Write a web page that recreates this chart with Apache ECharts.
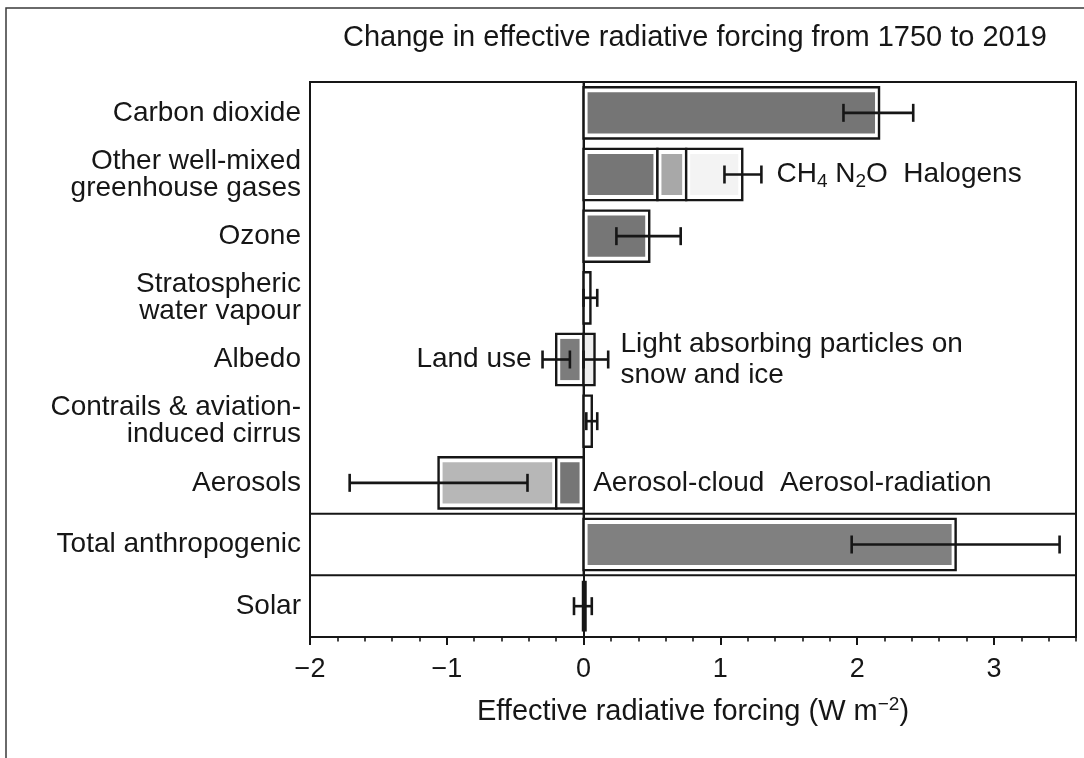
<!DOCTYPE html>
<html>
<head>
<meta charset="utf-8">
<script src="https://cdn.jsdelivr.net/npm/echarts@6/dist/echarts.min.js"></script>
<style>
html,body{margin:0;padding:0;background:#fff;}
#chart{width:1084px;height:758px;}
</style>
</head>
<body>
<div id="chart"></div>
<script>
// ---------- data ----------
const categories = ['Carbon dioxide', 'Other well-mixed\ngreenhouse gases', 'Ozone', 'Stratospheric\nwater vapour', 'Albedo', 'Contrails & aviation-\ninduced cirrus', 'Aerosols', 'Total anthropogenic', 'Solar'];

// bar segments (W m-2)
const segComponent = ['Carbon dioxide', 'CH4', 'N2O', 'Halogens', 'Ozone', 'Stratospheric water vapour', 'Land use', 'Light absorbing particles', 'Contrails', 'Aerosol-cloud', 'Aerosol-radiation', 'Total anthropogenic', 'Solar'];
const segRow   = [0, 1, 1, 1, 2, 3, 4, 4, 5, 6, 6, 7, 8];
const segStart = [0, 0, 0.54, 0.75, 0, 0, -0.20, 0, 0, -1.06, -0.20, 0, 0];
const segEnd   = [2.16, 0.54, 0.75, 1.16, 0.48, 0.05, 0, 0.08, 0.06, -0.20, 0, 2.72, 0.01];

// uncertainty ranges
const errRow  = [0, 1, 2, 3, 4, 4, 5, 6, 7, 8];
const errLow  = [1.90, 1.03, 0.24, 0.00, -0.30, 0.00, 0.02, -1.71, 1.96, -0.07];
const errHigh = [2.41, 1.30, 0.71, 0.10, -0.10, 0.18, 0.10, -0.41, 3.48, 0.06];

// x axis ticks
const xTicks = [-2, -1, 0, 1, 2, 3];
const xMin = -2, xMax = 3.6;

// separators above these rows
const separatorRows = [7, 8];

// annotations
const annoText  = ['{t|CH}{s|4}{t| N}{s|2}{t|O  Halogens}', 'Land use', 'Light absorbing particles on\nsnow and ice', 'Aerosol-cloud  Aerosol-radiation'];
const annoRow   = [1, 4, 4, 6];
const annoX     = [1.41, -0.38, 0.27, 0.07];
const annoAlign = ['left', 'right', 'left', 'left'];

// ---------- styling ----------
const FONT = '"Liberation Sans", Arial, Helvetica, sans-serif';
const INK = '#161616';
const shadeOf = {
  'Carbon dioxide': '#757575', 'CH4': '#767676', 'N2O': '#a8a8a8', 'Halogens': '#f3f3f3',
  'Ozone': '#767676', 'Stratospheric water vapour': '#ffffff', 'Land use': '#7c7c7c',
  'Light absorbing particles': '#eeeeee', 'Contrails': '#ffffff', 'Aerosol-cloud': '#b7b7b7',
  'Aerosol-radiation': '#767676', 'Total anthropogenic': '#808080', 'Solar': INK
};

const barData = segRow.map((r, i) => [r, segStart[i], segEnd[i], i]);
const errData = errRow.map((r, i) => [r, errLow[i], errHigh[i]]);
const sepData = separatorRows.map(r => [r]);
const annoData = annoRow.map((r, i) => [annoX[i], r, i]);

const chart = echarts.init(document.getElementById('chart'), null, {renderer: 'canvas'});

function renderBar(params, api) {
  const row = api.value(0), s = api.value(1), e = api.value(2), idx = api.value(3);
  const p0 = api.coord([s, row]);
  const p1 = api.coord([e, row]);
  const bandH = api.size([0, 1])[1];
  const h = bandH * 0.83;
  const x = Math.min(p0[0], p1[0]);
  const w = Math.abs(p1[0] - p0[0]);
  const y = p0[1] - h / 2;
  const col = shadeOf[segComponent[idx]];
  const children = [];
  if (w > 14) {
    children.push({type: 'rect', shape: {x: x, y: y, width: w, height: h}, style: {fill: '#ffffff', stroke: INK, lineWidth: 2.4}});
    children.push({type: 'rect', shape: {x: x + 4, y: y + 5, width: w - 8, height: h - 10}, style: {fill: col}});
  } else if (w < 3) {
    children.push({type: 'rect', shape: {x: x, y: y + 2, width: w, height: h - 4}, style: {fill: col, stroke: INK, lineWidth: 3.6}});
  } else {
    children.push({type: 'rect', shape: {x: x, y: y, width: w, height: h}, style: {fill: col, stroke: INK, lineWidth: 2.4}});
  }
  return {type: 'group', children: children};
}

function renderErr(params, api) {
  const row = api.value(0);
  const a = api.coord([api.value(1), row]);
  const b = api.coord([api.value(2), row]);
  const cap = 9;
  const st = {stroke: INK, lineWidth: 2.6};
  return {type: 'group', children: [
    {type: 'line', shape: {x1: a[0], y1: a[1], x2: b[0], y2: b[1]}, style: st},
    {type: 'line', shape: {x1: a[0], y1: a[1] - cap, x2: a[0], y2: a[1] + cap}, style: st},
    {type: 'line', shape: {x1: b[0], y1: b[1] - cap, x2: b[0], y2: b[1] + cap}, style: st}
  ]};
}

function renderSep(params, api) {
  const row = api.value(0);
  const bandH = api.size([0, 1])[1];
  const a = api.coord([xMin, row]);
  const b = api.coord([xMax, row]);
  const y = a[1] - bandH / 2;
  const children = [{type: 'line', shape: {x1: a[0], y1: y, x2: b[0], y2: y}, style: {stroke: INK, lineWidth: 2}}];
  if (params.dataIndex === sepData.length - 1) {
    // zero line from the top of the plot down to this separator
    const top = api.coord([0, 0]);
    children.push({type: 'line', shape: {x1: top[0], y1: top[1] - bandH / 2, x2: top[0], y2: y}, style: {stroke: INK, lineWidth: 2}});
  }
  return {type: 'group', children: children};
}

function renderAnno(params, api) {
  const i = api.value(2);
  const p = api.coord([api.value(0), api.value(1)]);
  return {
    type: 'text', x: p[0], y: p[1],
    style: {
      text: annoText[i], fill: INK, fontSize: 28, fontFamily: FONT, lineHeight: 31,
      align: annoAlign[i], verticalAlign: 'middle', textAlign: annoAlign[i], textVerticalAlign: 'middle',
      rich: {
        t: {fontSize: 28, fontFamily: FONT, color: INK, lineHeight: 34, verticalAlign: 'middle'},
        s: {fontSize: 19, fontFamily: FONT, color: INK, lineHeight: 19, verticalAlign: 'bottom'}
      }
    }
  };
}

const option = {
  backgroundColor: '#ffffff',
  animation: false,
  graphic: [{type: 'rect', silent: true, shape: {x: 6, y: 8, width: 1300, height: 1000}, style: {fill: 'none', stroke: '#3a3a3a', lineWidth: 1.5}}],
  title: {
    text: 'Change in effective radiative forcing from 1750 to 2019',
    left: 338, top: 18,
    textStyle: {fontSize: 29, fontWeight: 'normal', color: INK, fontFamily: FONT}
  },
  grid: {left: 310, right: 8, top: 82, bottom: 121, show: true, borderColor: INK, borderWidth: 2, backgroundColor: 'transparent', containLabel: false},
  xAxis: [{
    type: 'value', min: xMin, max: xMax, position: 'bottom',
    axisLine: {show: true, lineStyle: {color: INK, width: 2}},
    axisTick: {show: true, length: 8, lineStyle: {color: INK, width: 2}, customValues: xTicks},
    axisLabel: {show: true, customValues: xTicks, margin: 19, fontSize: 27, color: INK, fontFamily: FONT,
      formatter: v => String(v).replace('-', '\u2212')},
    splitLine: {show: false},
    name: '{a|Effective radiative forcing (W m}{b|\u22122}{a|)}',
    nameLocation: 'middle', nameGap: 58,
    nameTextStyle: {
      rich: {
        a: {fontSize: 29, fontFamily: FONT, color: INK, lineHeight: 34, verticalAlign: 'middle'},
        b: {fontSize: 19, fontFamily: FONT, color: INK, lineHeight: 19, verticalAlign: 'top'}
      }
    }
  }, {
    type: 'value', min: xMin, max: xMax, interval: 0.2, position: 'bottom',
    axisLine: {show: false},
    axisTick: {show: true, length: 4.5, lineStyle: {color: INK, width: 1.6}},
    axisLabel: {show: false},
    splitLine: {show: false}
  }],
  yAxis: {
    type: 'category', data: categories, inverse: true,
    axisLine: {show: true, lineStyle: {color: INK, width: 2}},
    axisTick: {show: false},
    axisLabel: {fontSize: 28, color: INK, fontFamily: FONT, margin: 9, lineHeight: 27, interval: 0},
    splitLine: {show: false}
  },
  series: [
    {type: 'custom', name: 'bars', xAxisIndex: 0, renderItem: renderBar, data: barData, encode: {x: [1, 2], y: 0}, z: 3},
    {type: 'custom', name: 'lines', xAxisIndex: 0, renderItem: renderSep, data: sepData, encode: {y: 0}, z: 2},
    {type: 'custom', name: 'uncertainty', xAxisIndex: 0, renderItem: renderErr, data: errData, encode: {x: [1, 2], y: 0}, z: 4},
    {type: 'custom', name: 'annotations', xAxisIndex: 0, renderItem: renderAnno, data: annoData, encode: {x: 0, y: 1}, z: 5}
  ]
};
chart.setOption(option);
</script>
</body>
</html>
